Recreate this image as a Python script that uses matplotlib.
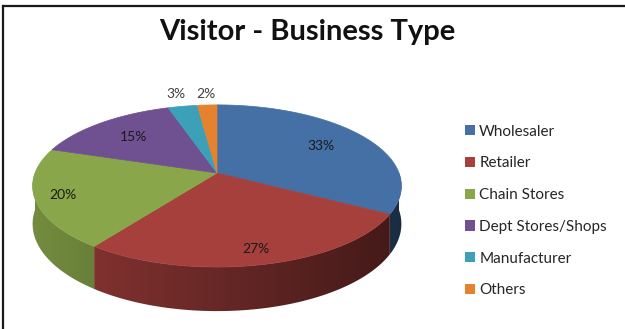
import numpy as np
import matplotlib
matplotlib.use('Agg')
import matplotlib.pyplot as plt
from matplotlib.patches import Polygon, Patch
from matplotlib.colors import to_rgb

# Datos del grafico
titulo = 'Visitor - Business Type'
categorias = ['Wholesaler', 'Retailer', 'Chain Stores', 'Dept Stores/Shops', 'Manufacturer', 'Others']
valores = [33, 27, 20, 15, 3, 2]
etiquetas = ['33%', '27%', '20%', '15%', '3%', '2%']
colores = ['#4470A6', '#A6403D', '#89A64A', '#6F5191', '#3BA0B8', '#E4822E']

# Geometria del pastel 3D (en pixeles de la figura)
CX, CY = 217, 173
RX, RY = 182, 79
K = 0.16          # perspectiva
DEPTH = 37        # grosor del pastel
radio_etiqueta = [0.7, 0.85, 0.85, 0.7, 1.22, 1.2]

plt.rcParams['font.family'] = ['Lato', 'DejaVu Sans']


def proyectar(u, v, z=0.0):
    w = 1 + K * v
    x = CX + RX * u / w
    y = CY - RY * v / w + z * DEPTH / w
    return x, y


def factor(u):
    return 0.62 - 0.22 * u


fig = plt.figure(figsize=(6.25, 3.29), dpi=100)
ax = fig.add_axes([0, 0, 1, 1])
ax.set_xlim(0, 625)
ax.set_ylim(329, 0)
ax.axis('off')

total = sum(valores)
acum = np.concatenate([[0], np.cumsum(valores)]) / total
inicios = 90 - 360 * acum[:-1]
finales = 90 - 360 * acum[1:]

# Paredes laterales (solo la mitad frontal es visible), con degradado
for i in range(len(valores)):
    a = max(finales[i], -180)
    b = min(inicios[i], 0)
    if a >= b:
        continue
    ts = np.radians(np.linspace(a, b, 80))
    arriba = [proyectar(np.cos(t), np.sin(t)) for t in ts]
    abajo = [proyectar(np.cos(t), np.sin(t), 1) for t in ts[::-1]]
    pts = np.array(arriba + abajo)
    x0, x1 = pts[:, 0].min() - 1, pts[:, 0].max() + 1
    y0, y1 = pts[:, 1].min() - 1, pts[:, 1].max() + 1
    xs = np.linspace(x0, x1, 200)
    u = np.clip((xs - CX) / RX, -1, 1)
    base = np.array(to_rgb(colores[i]))
    img = (factor(u)[:, None] * base[None, :])[None, :, :]
    poly = Polygon(pts, closed=True, facecolor='none', edgecolor='none')
    ax.add_patch(poly)
    im = ax.imshow(img, extent=(x0, x1, y1, y0), aspect='auto', interpolation='bilinear', zorder=1)
    im.set_clip_path(poly)

ax.set_xlim(0, 625)
ax.set_ylim(329, 0)

# Cara superior
for i in range(len(valores)):
    ts = np.radians(np.linspace(inicios[i], finales[i], 100))
    p = [proyectar(0, 0)] + [proyectar(np.cos(t), np.sin(t)) for t in ts]
    ax.add_patch(Polygon(p, closed=True, facecolor=colores[i], edgecolor=colores[i], lw=0.5, zorder=2))

# Etiquetas de porcentaje
for i in range(len(valores)):
    tm = np.radians((inicios[i] + finales[i]) / 2)
    r = radio_etiqueta[i]
    x, y = proyectar(r * np.cos(tm), r * np.sin(tm))
    color = '#1a1a1a' if r < 1 else '#404040'
    ax.text(x, y, etiquetas[i], ha='center', va='center', fontsize=10, color=color, zorder=3)

ax.text(307, 32, titulo, ha='center', va='center', fontsize=21, fontweight='bold', color='#111111')

handles = [Patch(facecolor=c, edgecolor='none') for c in colores]
ax.legend(handles, categorias, loc='upper left', bbox_to_anchor=(457 / 625, 1 - 117 / 329),
          frameon=False, handlelength=0.65, handleheight=0.65, handletextpad=0.3,
          labelspacing=1.16, fontsize=11, labelcolor='#262626', borderpad=0)

# Marco
ax.plot([3, 3], [329, 6], color='#1a1a1a', lw=1.6)
ax.plot([3, 625], [6, 6], color='#1a1a1a', lw=1.6)

fig.savefig('out.png', dpi=100)
